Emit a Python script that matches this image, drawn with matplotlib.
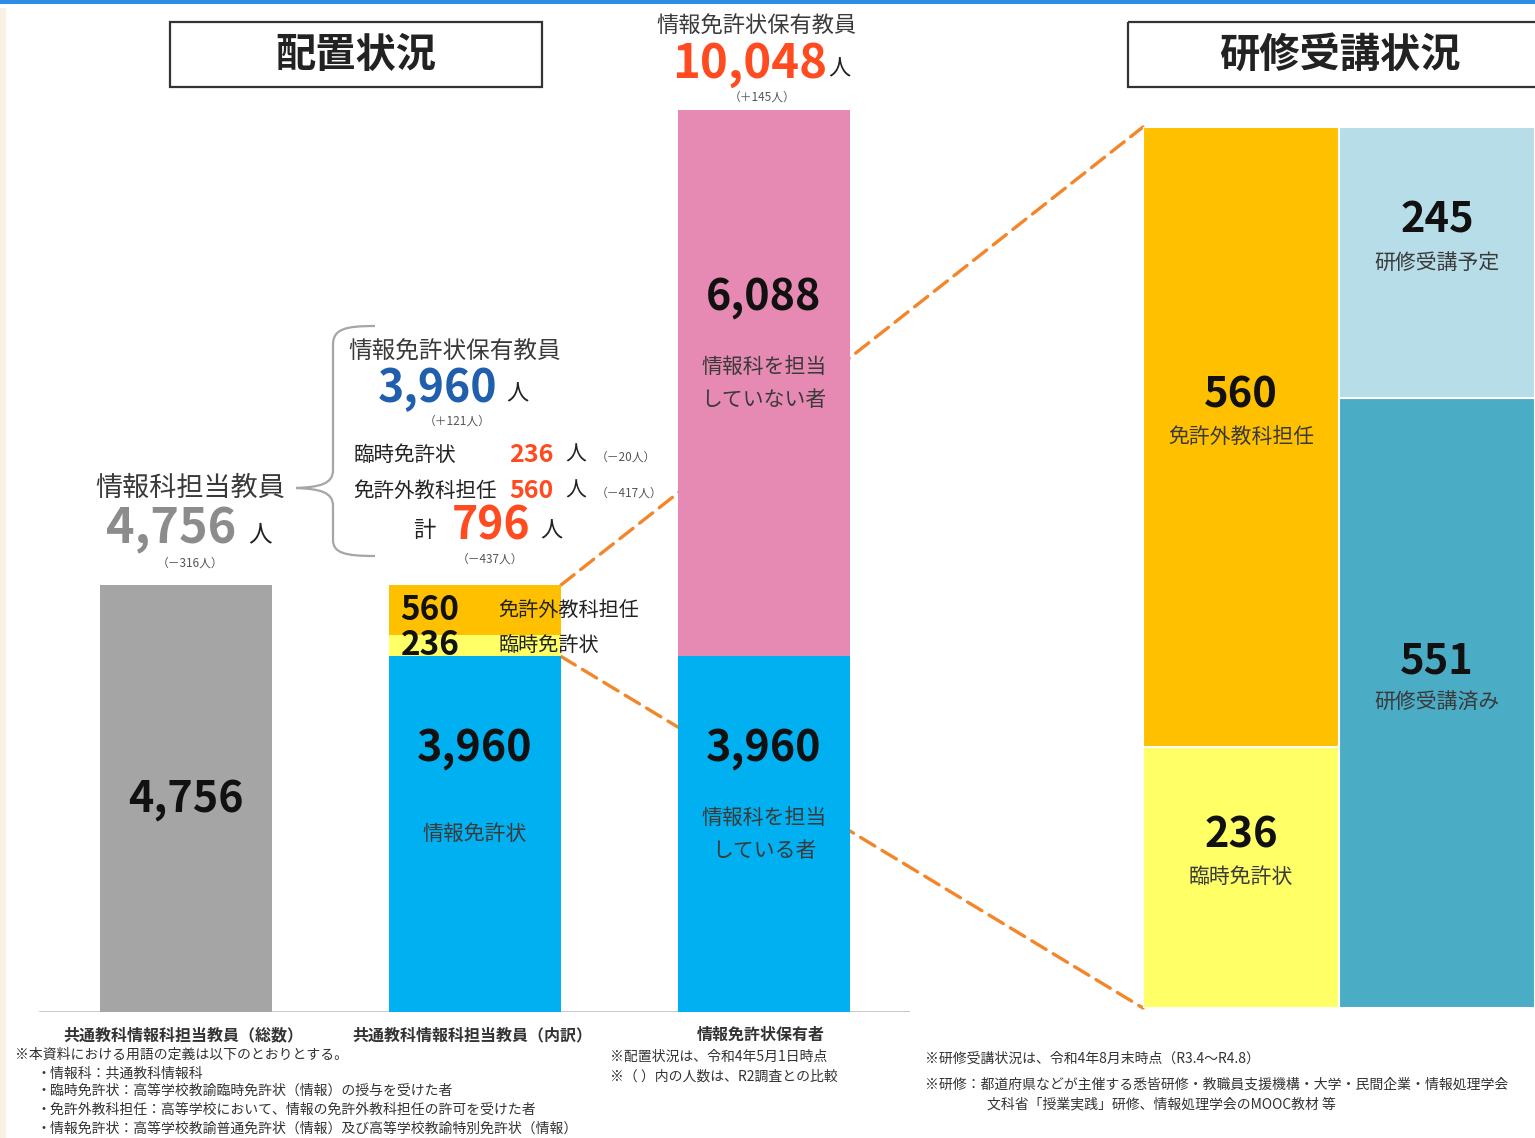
import matplotlib
matplotlib.use("Agg")
import matplotlib.pyplot as plt
from matplotlib.patches import Rectangle, ConnectionPatch, PathPatch
from matplotlib.path import Path

plt.rcParams['font.family'] = ['Noto Sans CJK JP', 'DejaVu Sans']

# data
categories = ["共通教科情報科担当教員（総数）", "共通教科情報科担当教員（内訳）", "情報免許状保有者"]
total_teachers = 4756
breakdown_labels = ["情報免許状", "臨時免許状", "免許外教科担任"]
breakdown_values = [3960, 236, 560]
holder_labels = ["情報科を担当\nしている者", "情報科を担当\nしていない者"]
holder_values = [3960, 6088]
train_left_labels = ["臨時免許状", "免許外教科担任"]
train_left_values = [236, 560]
train_right_labels = ["研修受講済み", "研修受講予定"]
train_right_values = [551, 245]

GRAY = "#A5A5A5"
BLUE = "#00B0F0"
YELLOW = "#FFFF66"
ORANGE = "#FFC000"
PINK = "#E68AB3"
LBLUE = "#B7DEE8"
TEAL = "#4BACC6"
TXT = "#3A3A3A"
RED = "#FF4B1F"

W, H = 1535, 1138
fig = plt.figure(figsize=(W / 100, H / 100), dpi=100)
fig.patch.set_facecolor("white")

# left chart: 1 px = 1/0.08978 persons
base_px = 1012
scale = 0.08978
ax = fig.add_axes([0, 1 - base_px / H, 910 / W, base_px / H])
ax.set_ylim(0, base_px / scale)
ax.set_xlim(-186 / 289, (910 - 186) / 289)
ax.axis("off")
w = 172 / 289

ax.bar(0, total_teachers, w, color=GRAY, zorder=3)
bottom = 0
for v, c in zip(breakdown_values, [BLUE, YELLOW, ORANGE]):
    ax.bar(1, v, w, bottom=bottom, color=c, zorder=3)
    bottom += v
bottom = 0
for v, c in zip(holder_values, [BLUE, PINK]):
    ax.bar(2, v, w, bottom=bottom, color=c, zorder=3)
    bottom += v
ax.axhline(0, xmin=40 / 910, xmax=1, color="#BFBFBF", lw=1.2, zorder=2)

num_kw = dict(fontsize=31, fontweight="bold", color="#111111", ha="center", va="center", zorder=5)
lab_kw = dict(fontsize=15, color=TXT, ha="center", va="center", zorder=5, linespacing=1.65)

ax.text(0, total_teachers / 2, f"{total_teachers:,}", **num_kw)
# bar 2 blue
v0 = breakdown_values[0]
ax.text(1, v0 / 2, breakdown_labels[0], **lab_kw)
ax.annotate(f"{v0:,}", (1, v0 / 2), xytext=(0, 62), textcoords="offset points", **num_kw)
# bar 2 yellow / orange
y_mid = v0 + breakdown_values[1] / 2
o_mid = v0 + breakdown_values[1] + breakdown_values[2] / 2
for mid, v, lab in [(y_mid, breakdown_values[1], breakdown_labels[1]),
                    (o_mid, breakdown_values[2], breakdown_labels[2])]:
    ax.text(1 - w / 2 + 0.04, mid, f"{v}", fontsize=24, fontweight="bold", color="#111111",
            ha="left", va="center", zorder=5)
    ax.text(1.08, mid, lab, fontsize=14.5, color="#222222", ha="left", va="center", zorder=5)
# bar 3
bottom = 0
for v, lab in zip(holder_values, holder_labels):
    mid = bottom + v / 2
    ax.text(2, mid, lab, **lab_kw)
    ax.annotate(f"{v:,}", (2, mid), xytext=(0, 62), textcoords="offset points", **num_kw)
    bottom += v

for i, cat in enumerate(categories):
    ax.annotate(cat, (i, 0), xytext=(-2, -16.5), textcoords="offset points", fontsize=11.5,
                fontweight="bold", color="#333333", ha="center", va="center")

# right panel
ax2 = fig.add_axes([1143 / W, 1 - 1008 / H, (W - 1143) / W, (1008 - 127) / H])
ax2.set_xlim(-0.5, 1.5)
ax2.set_ylim(0, sum(train_left_values))
ax2.axis("off")
for x, vals, labs, cols in [(0, train_left_values, train_left_labels, [YELLOW, ORANGE]),
                            (1, train_right_values, train_right_labels, [TEAL, LBLUE])]:
    bottom = 0
    for v, lab, c in zip(vals, labs, cols):
        ax2.bar(x, v, 1, bottom=bottom, color=c, edgecolor="white", lw=1.5)
        mid = bottom + v / 2
        ax2.text(x, mid, lab, fontsize=15, color=TXT, ha="center", va="center")
        ax2.annotate(f"{v}", (x, mid), xytext=(0, 30), textcoords="offset points",
                     fontsize=30, fontweight="bold", color="#111111", ha="center", va="center")
        bottom += v

# zoom lines (behind the third bar)
top2 = sum(breakdown_values)
for ya, yb in [(top2, sum(train_left_values)), (breakdown_values[0], 0)]:
    cp = ConnectionPatch((1 + w / 2, ya), (-0.5, yb), coordsA=ax.transData, coordsB=ax2.transData,
                         color="#F4862A", lw=2.4, linestyle=(0, (5, 2.5)), zorder=1)
    ax.add_artist(cp)
    cp.set_clip_on(False)

# overlay for annotations (pixel coordinates)
ov = fig.add_axes([0, 0, 1, 1])
ov.set_xlim(0, W)
ov.set_ylim(H, 0)
ov.axis("off")

ov.add_patch(Rectangle((0, 0), W, 4, color="#2E8DE6", lw=0))
ov.add_patch(Rectangle((0, 8), 6, H - 8, color="#F6F1E2", lw=0))

# titles
ov.add_patch(Rectangle((170, 22), 372, 65, fill=False, ec="#333333", lw=1.6))
ov.text(356, 55, "配置状況", fontsize=29, fontweight="bold", color="#222222", ha="center", va="center")
ov.add_patch(Rectangle((1128, 22), 420, 65, fill=False, ec="#333333", lw=1.6))
ov.text(1340, 55, "研修受講状況", fontsize=29, fontweight="bold", color="#222222", ha="center", va="center")

# top of the third bar
ov.text(757, 25, "情報免許状保有教員", fontsize=16, color=TXT, ha="center", va="center")
ov.text(750, 64, f"{sum(holder_values):,}", fontsize=34, fontweight="bold", color=RED, ha="center", va="center")
ov.text(839, 69, "人", fontsize=16, color="#222222", ha="center", va="center")
ov.text(762, 97, "（＋145人）", fontsize=8.5, color="#555555", ha="center", va="center")

# left summary
ov.text(190, 488, "情報科担当教員", fontsize=19.5, color=TXT, ha="center", va="center")
ov.text(171, 529, f"{total_teachers:,}", fontsize=35, fontweight="bold", color="#8C8C8C", ha="center", va="center")
ov.text(260, 535, "人", fontsize=17, color="#222222", ha="center", va="center")
ov.text(190, 563, "（－316人）", fontsize=8.5, color="#555555", ha="center", va="center")

# brace
verts = [(375, 326), (345, 326), (333, 329), (333, 345),
         (333, 470),
         (333, 484), (320, 487), (296, 488),
         (320, 489), (333, 492), (333, 506),
         (333, 540),
         (333, 553), (345, 556), (375, 556)]
codes = [Path.MOVETO, Path.CURVE4, Path.CURVE4, Path.CURVE4, Path.LINETO,
         Path.CURVE4, Path.CURVE4, Path.CURVE4, Path.CURVE4, Path.CURVE4, Path.CURVE4,
         Path.LINETO, Path.CURVE4, Path.CURVE4, Path.CURVE4]
ov.add_patch(PathPatch(Path(verts, codes), fill=False, ec="#A6A6A6", lw=1.6))

ov.text(455, 352, "情報免許状保有教員", fontsize=17, color=TXT, ha="center", va="center")
ov.text(438, 389, f"{breakdown_values[0]:,}", fontsize=32, fontweight="bold", color="#1F5FAD", ha="center", va="center")
ov.text(517, 394, "人", fontsize=16, color="#222222", ha="center", va="center")
ov.text(457, 421, "（＋121人）", fontsize=8.5, color="#555555", ha="center", va="center")
for y, lab, v, diff in [(455, breakdown_labels[1], breakdown_values[1], "（－20人）"),
                        (491, breakdown_labels[2], breakdown_values[2], "（－417人）")]:
    ov.text(353, y, lab, fontsize=14.8, color="#222222", ha="left", va="center")
    ov.text(531, y, f"{v}", fontsize=18, fontweight="bold", color=RED, ha="center", va="center")
    ov.text(576, y, "人", fontsize=15, color="#222222", ha="center", va="center")
    ov.text(596, y + 2, diff, fontsize=8.5, color="#555555", ha="left", va="center")
ov.text(424, 530, "計", fontsize=16, color="#222222", ha="center", va="center")
ov.text(491, 526, f"{breakdown_values[1] + breakdown_values[2]}", fontsize=32, fontweight="bold", color=RED,
        ha="center", va="center")
ov.text(551, 531, "人", fontsize=16, color="#222222", ha="center", va="center")
ov.text(490, 559, "（－437人）", fontsize=8.5, color="#555555", ha="center", va="center")

# notes
note_kw = dict(fontsize=10, color="#333333", ha="left", va="center")
ov.text(15, 1055, "※本資料における用語の定義は以下のとおりとする。", **note_kw)
ov.text(37, 1073, "・情報科：共通教科情報科", **note_kw)
ov.text(37, 1091, "・臨時免許状：高等学校教諭臨時免許状（情報）の授与を受けた者", **note_kw)
ov.text(37, 1110, "・免許外教科担任：高等学校において、情報の免許外教科担任の許可を受けた者", **note_kw)
ov.text(37, 1129, "・情報免許状：高等学校教諭普通免許状（情報）及び高等学校教諭特別免許状（情報）", **note_kw)
ov.text(610, 1057, "※配置状況は、令和4年5月1日時点", **note_kw)
ov.text(610, 1077, "※（ ）内の人数は、R2調査との比較", **note_kw)
ov.text(925, 1059, "※研修受講状況は、令和4年8月末時点（R3.4～R4.8）", **note_kw)
ov.text(925, 1085, "※研修：都道府県などが主催する悉皆研修・教職員支援機構・大学・民間企業・情報処理学会", **note_kw)
ov.text(987, 1104, "文科省「授業実践」研修、情報処理学会のMOOC教材 等", **note_kw)

fig.savefig("out.png", dpi=100)
